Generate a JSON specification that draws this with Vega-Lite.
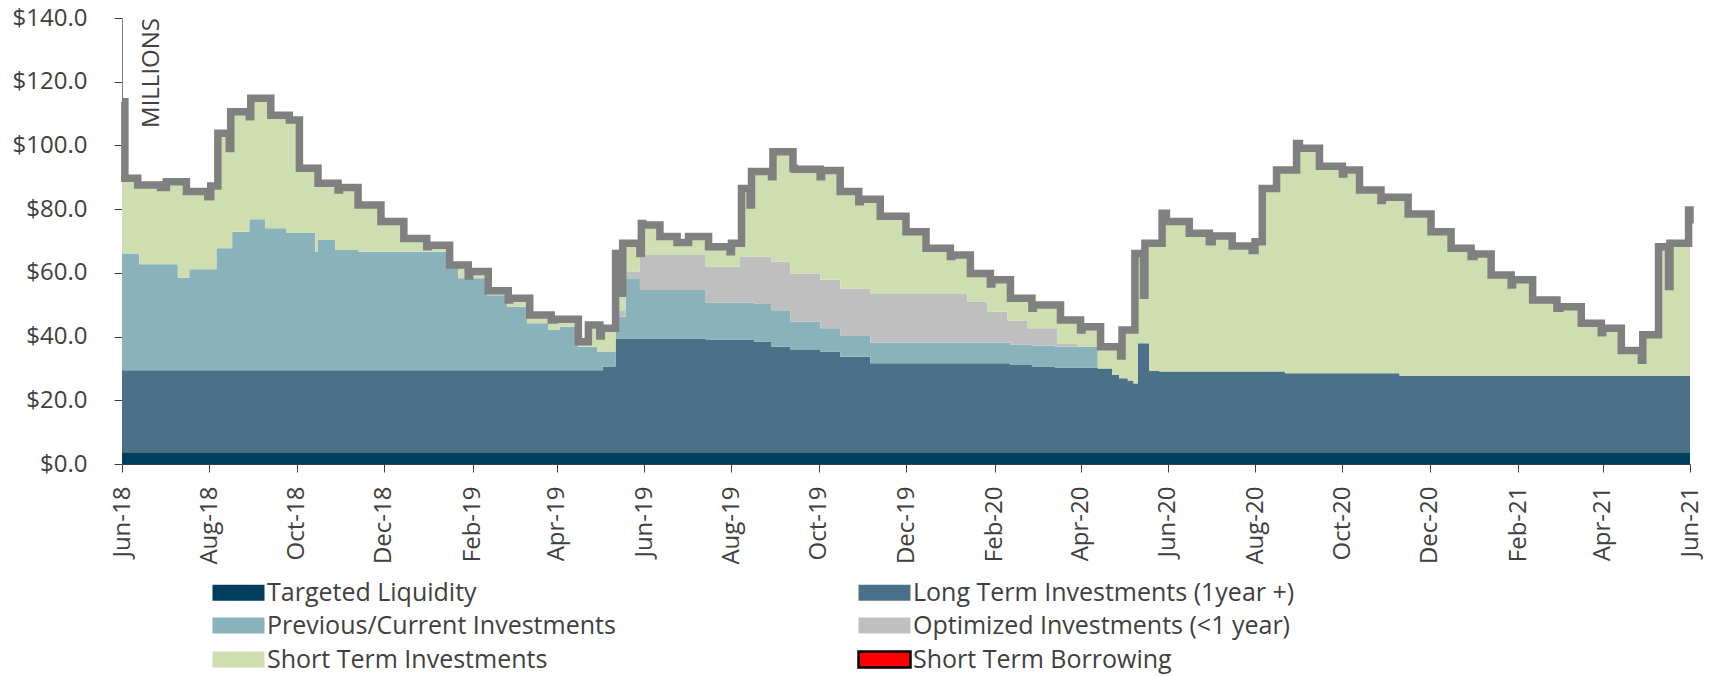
{
  "$schema": "https://vega.github.io/schema/vega-lite/v6.json",
  "width": 1568,
  "height": 446,
  "autosize": {"type": "none"},
  "padding": {"left": 122, "top": 18, "right": 28, "bottom": 212},
  "background": "white",
  "config": {"font": "Open Sans", "view": {"stroke": null}},
  "datasets": {
    "main": [
      {"d":"2018-06-01","s1":3.7,"s2":25.7,"s3":36.7,"s4":0,"s5":47.6,"T":113.7},
      {"d":"2018-06-03","s1":3.7,"s2":25.7,"s3":36.7,"s4":0,"s5":23.6,"T":89.7},
      {"d":"2018-06-12","s1":3.7,"s2":25.7,"s3":36.7,"s4":0,"s5":21.5,"T":87.6},
      {"d":"2018-06-13","s1":3.7,"s2":25.7,"s3":33.3,"s4":0,"s5":24.9,"T":87.6},
      {"d":"2018-06-28","s1":3.7,"s2":25.7,"s3":33.3,"s4":0,"s5":24.1,"T":86.8},
      {"d":"2018-07-02","s1":3.7,"s2":25.7,"s3":33.3,"s4":0,"s5":25.9,"T":88.6},
      {"d":"2018-07-10","s1":3.7,"s2":25.7,"s3":29.1,"s4":0,"s5":30.1,"T":88.6},
      {"d":"2018-07-16","s1":3.7,"s2":25.7,"s3":29.1,"s4":0,"s5":27.0,"T":85.5},
      {"d":"2018-07-18","s1":3.7,"s2":25.7,"s3":31.7,"s4":0,"s5":24.4,"T":85.5},
      {"d":"2018-07-31","s1":3.7,"s2":25.7,"s3":31.7,"s4":0,"s5":22.8,"T":83.9},
      {"d":"2018-08-02","s1":3.7,"s2":25.7,"s3":31.7,"s4":0,"s5":26.2,"T":87.3},
      {"d":"2018-08-06","s1":3.7,"s2":25.7,"s3":38.3,"s4":0,"s5":19.6,"T":87.3},
      {"d":"2018-08-07","s1":3.7,"s2":25.7,"s3":38.3,"s4":0,"s5":36.1,"T":103.8},
      {"d":"2018-08-15","s1":3.7,"s2":25.7,"s3":38.3,"s4":0,"s5":31.3,"T":99.0},
      {"d":"2018-08-16","s1":3.7,"s2":25.7,"s3":38.3,"s4":0,"s5":42.9,"T":110.6},
      {"d":"2018-08-17","s1":3.7,"s2":25.7,"s3":43.5,"s4":0,"s5":37.7,"T":110.6},
      {"d":"2018-08-29","s1":3.7,"s2":25.7,"s3":47.4,"s4":0,"s5":32.2,"T":109.0},
      {"d":"2018-08-30","s1":3.7,"s2":25.7,"s3":47.4,"s4":0,"s5":38.0,"T":114.8},
      {"d":"2018-09-09","s1":3.7,"s2":25.7,"s3":44.6,"s4":0,"s5":40.8,"T":114.8},
      {"d":"2018-09-13","s1":3.7,"s2":25.7,"s3":44.6,"s4":0,"s5":35.5,"T":109.5},
      {"d":"2018-09-24","s1":3.7,"s2":25.7,"s3":43.2,"s4":0,"s5":36.9,"T":109.5},
      {"d":"2018-09-26","s1":3.7,"s2":25.7,"s3":43.2,"s4":0,"s5":35.4,"T":108.0},
      {"d":"2018-10-03","s1":3.7,"s2":25.7,"s3":43.2,"s4":0,"s5":20.2,"T":92.8},
      {"d":"2018-10-14","s1":3.7,"s2":25.7,"s3":37.2,"s4":0,"s5":26.2,"T":92.8},
      {"d":"2018-10-16","s1":3.7,"s2":25.7,"s3":40.9,"s4":0,"s5":17.8,"T":88.1},
      {"d":"2018-10-28","s1":3.7,"s2":25.7,"s3":37.8,"s4":0,"s5":20.9,"T":88.1},
      {"d":"2018-10-30","s1":3.7,"s2":25.7,"s3":37.8,"s4":0,"s5":18.8,"T":86.0},
      {"d":"2018-10-31","s1":3.7,"s2":25.7,"s3":37.8,"s4":0,"s5":19.6,"T":86.8},
      {"d":"2018-11-13","s1":3.7,"s2":25.7,"s3":37.2,"s4":0,"s5":14.7,"T":81.3},
      {"d":"2018-11-29","s1":3.7,"s2":25.7,"s3":37.2,"s4":0,"s5":9.5,"T":76.1},
      {"d":"2018-12-15","s1":3.7,"s2":25.7,"s3":37.2,"s4":0,"s5":4.2,"T":70.8},
      {"d":"2018-12-31","s1":3.7,"s2":25.7,"s3":37.2,"s4":0,"s5":1.6,"T":68.2},
      {"d":"2019-01-01","s1":3.7,"s2":25.7,"s3":37.2,"s4":0,"s5":2.1,"T":68.7},
      {"d":"2019-01-14","s1":3.7,"s2":25.7,"s3":33.1,"s4":0,"s5":6.2,"T":68.7},
      {"d":"2019-01-16","s1":3.7,"s2":25.7,"s3":33.1,"s4":0,"s5":0,"T":62.5},
      {"d":"2019-01-22","s1":3.7,"s2":25.7,"s3":28.9,"s4":0,"s5":4.2,"T":62.5},
      {"d":"2019-01-29","s1":3.7,"s2":25.7,"s3":28.9,"s4":0,"s5":0.7,"T":59.0},
      {"d":"2019-01-30","s1":3.7,"s2":25.7,"s3":28.9,"s4":0,"s5":2.1,"T":60.4},
      {"d":"2019-02-11","s1":3.7,"s2":25.7,"s3":23.6,"s4":0,"s5":7.4,"T":60.4},
      {"d":"2019-02-12","s1":3.7,"s2":25.7,"s3":23.6,"s4":0,"s5":1.4,"T":54.4},
      {"d":"2019-02-25","s1":3.7,"s2":25.7,"s3":20.0,"s4":0,"s5":5.0,"T":54.4},
      {"d":"2019-02-26","s1":3.7,"s2":25.7,"s3":20.0,"s4":0,"s5":2.1,"T":51.5},
      {"d":"2019-02-27","s1":3.7,"s2":25.7,"s3":20.0,"s4":0,"s5":2.6,"T":52.0},
      {"d":"2019-03-11","s1":3.7,"s2":25.7,"s3":14.8,"s4":0,"s5":7.8,"T":52.0},
      {"d":"2019-03-13","s1":3.7,"s2":25.7,"s3":14.8,"s4":0,"s5":2.6,"T":46.8},
      {"d":"2019-03-26","s1":3.7,"s2":25.7,"s3":12.7,"s4":0,"s5":4.7,"T":46.8},
      {"d":"2019-03-28","s1":3.7,"s2":25.7,"s3":12.7,"s4":0,"s5":3.1,"T":45.2},
      {"d":"2019-03-30","s1":3.7,"s2":25.7,"s3":12.7,"s4":0,"s5":3.3,"T":45.4},
      {"d":"2019-04-03","s1":3.7,"s2":25.7,"s3":13.7,"s4":0,"s5":2.3,"T":45.4},
      {"d":"2019-04-16","s1":3.7,"s2":25.7,"s3":7.4,"s4":0,"s5":1.6,"T":38.4},
      {"d":"2019-04-23","s1":3.7,"s2":25.7,"s3":7.4,"s4":0,"s5":6.8,"T":43.6},
      {"d":"2019-04-29","s1":3.7,"s2":25.7,"s3":5.9,"s4":0,"s5":8.3,"T":43.6},
      {"d":"2019-05-01","s1":3.7,"s2":25.7,"s3":5.9,"s4":0,"s5":4.9,"T":40.2},
      {"d":"2019-05-02","s1":3.7,"s2":25.7,"s3":5.9,"s4":0,"s5":7.3,"T":42.6},
      {"d":"2019-05-03","s1":3.7,"s2":26.9,"s3":4.7,"s4":0,"s5":7.3,"T":42.6},
      {"d":"2019-05-12","s1":3.7,"s2":35.7,"s3":6.8,"s4":2.1,"s5":17.8,"T":66.1},
      {"d":"2019-05-15","s1":3.7,"s2":35.7,"s3":6.8,"s4":2.1,"s5":5.3,"T":53.6},
      {"d":"2019-05-17","s1":3.7,"s2":35.7,"s3":6.8,"s4":2.1,"s5":21.0,"T":69.3},
      {"d":"2019-05-19","s1":3.7,"s2":35.7,"s3":18.9,"s4":2.1,"s5":8.9,"T":69.3},
      {"d":"2019-05-29","s1":3.7,"s2":35.7,"s3":15.2,"s4":11.0,"s5":0.5,"T":66.1},
      {"d":"2019-05-30","s1":3.7,"s2":35.7,"s3":15.2,"s4":11.0,"s5":9.9,"T":75.5},
      {"d":"2019-05-31","s1":3.7,"s2":35.7,"s3":15.2,"s4":11.0,"s5":9.4,"T":75.0},
      {"d":"2019-06-12","s1":3.7,"s2":35.7,"s3":15.2,"s4":11.0,"s5":5.8,"T":71.4},
      {"d":"2019-06-24","s1":3.7,"s2":35.7,"s3":15.2,"s4":11.0,"s5":3.9,"T":69.5},
      {"d":"2019-07-02","s1":3.7,"s2":35.7,"s3":15.2,"s4":11.0,"s5":5.8,"T":71.4},
      {"d":"2019-07-14","s1":3.7,"s2":35.4,"s3":11.5,"s4":11.3,"s5":9.5,"T":71.4},
      {"d":"2019-07-16","s1":3.7,"s2":35.4,"s3":11.5,"s4":11.3,"s5":6.3,"T":68.2},
      {"d":"2019-07-31","s1":3.7,"s2":35.4,"s3":11.5,"s4":11.3,"s5":4.7,"T":66.6},
      {"d":"2019-08-01","s1":3.7,"s2":35.4,"s3":11.5,"s4":11.3,"s5":7.4,"T":69.3},
      {"d":"2019-08-07","s1":3.7,"s2":35.4,"s3":11.5,"s4":14.5,"s5":4.2,"T":69.3},
      {"d":"2019-08-08","s1":3.7,"s2":35.4,"s3":11.5,"s4":14.5,"s5":21.4,"T":86.5},
      {"d":"2019-08-14","s1":3.7,"s2":35.4,"s3":11.5,"s4":14.5,"s5":16.2,"T":81.3},
      {"d":"2019-08-15","s1":3.7,"s2":35.4,"s3":11.5,"s4":14.5,"s5":26.7,"T":91.8},
      {"d":"2019-08-17","s1":3.7,"s2":34.7,"s3":11.8,"s4":14.9,"s5":26.7,"T":91.8},
      {"d":"2019-08-29","s1":3.7,"s2":33.1,"s3":11.5,"s4":15.2,"s5":26.7,"T":90.2},
      {"d":"2019-08-30","s1":3.7,"s2":33.1,"s3":11.5,"s4":15.2,"s5":34.5,"T":98.0},
      {"d":"2019-09-11","s1":3.7,"s2":32.1,"s3":8.9,"s4":15.1,"s5":38.2,"T":98.0},
      {"d":"2019-09-13","s1":3.7,"s2":32.1,"s3":8.9,"s4":15.1,"s5":33.0,"T":92.8},
      {"d":"2019-09-14","s1":3.7,"s2":32.1,"s3":8.9,"s4":15.1,"s5":32.7,"T":92.5},
      {"d":"2019-10-02","s1":3.7,"s2":31.6,"s3":7.3,"s4":15.2,"s5":32.4,"T":90.2},
      {"d":"2019-10-03","s1":3.7,"s2":31.6,"s3":7.3,"s4":15.2,"s5":34.3,"T":92.1},
      {"d":"2019-10-16","s1":3.7,"s2":30.0,"s3":6.5,"s4":14.9,"s5":30.4,"T":85.5},
      {"d":"2019-10-29","s1":3.7,"s2":30.0,"s3":6.5,"s4":14.9,"s5":27.2,"T":82.3},
      {"d":"2019-10-30","s1":3.7,"s2":30.0,"s3":6.5,"s4":14.9,"s5":28.0,"T":83.1},
      {"d":"2019-11-06","s1":3.7,"s2":27.9,"s3":6.5,"s4":15.3,"s5":29.7,"T":83.1},
      {"d":"2019-11-13","s1":3.7,"s2":27.9,"s3":6.5,"s4":15.3,"s5":24.4,"T":77.8},
      {"d":"2019-12-01","s1":3.7,"s2":27.9,"s3":6.5,"s4":15.3,"s5":19.5,"T":72.9},
      {"d":"2019-12-15","s1":3.7,"s2":27.9,"s3":6.5,"s4":15.3,"s5":14.3,"T":67.7},
      {"d":"2020-01-01","s1":3.7,"s2":27.9,"s3":6.5,"s4":15.3,"s5":11.7,"T":65.1},
      {"d":"2020-01-02","s1":3.7,"s2":27.9,"s3":6.5,"s4":15.3,"s5":12.2,"T":65.6},
      {"d":"2020-01-13","s1":3.7,"s2":27.9,"s3":6.5,"s4":12.9,"s5":14.6,"T":65.6},
      {"d":"2020-01-15","s1":3.7,"s2":27.9,"s3":6.5,"s4":12.9,"s5":8.8,"T":59.8},
      {"d":"2020-01-27","s1":3.7,"s2":27.9,"s3":6.5,"s4":9.7,"s5":12.0,"T":59.8},
      {"d":"2020-01-29","s1":3.7,"s2":27.9,"s3":6.5,"s4":9.7,"s5":8.7,"T":56.5},
      {"d":"2020-01-30","s1":3.7,"s2":27.9,"s3":6.5,"s4":9.7,"s5":10.0,"T":57.8},
      {"d":"2020-02-10","s1":3.7,"s2":27.9,"s3":6.5,"s4":6.9,"s5":12.8,"T":57.8},
      {"d":"2020-02-12","s1":3.7,"s2":27.4,"s3":6.3,"s4":7.6,"s5":7.0,"T":52.0},
      {"d":"2020-02-24","s1":3.7,"s2":27.4,"s3":6.3,"s4":5.2,"s5":9.4,"T":52.0},
      {"d":"2020-02-27","s1":3.7,"s2":26.9,"s3":6.6,"s4":5.4,"s5":6.3,"T":48.9},
      {"d":"2020-02-28","s1":3.7,"s2":26.9,"s3":6.6,"s4":5.4,"s5":7.3,"T":49.9},
      {"d":"2020-03-14","s1":3.7,"s2":26.6,"s3":6.5,"s4":5.8,"s5":7.3,"T":49.9},
      {"d":"2020-03-16","s1":3.7,"s2":26.6,"s3":6.5,"s4":0.9,"s5":12.2,"T":49.9},
      {"d":"2020-03-18","s1":3.7,"s2":26.6,"s3":6.5,"s4":0.9,"s5":7.5,"T":45.2},
      {"d":"2020-03-30","s1":3.7,"s2":26.6,"s3":6.5,"s4":0,"s5":8.4,"T":45.2},
      {"d":"2020-04-01","s1":3.7,"s2":26.6,"s3":6.5,"s4":0,"s5":5.3,"T":42.1},
      {"d":"2020-04-02","s1":3.7,"s2":26.6,"s3":6.5,"s4":0,"s5":6.3,"T":43.1},
      {"d":"2020-04-13","s1":3.7,"s2":26.3,"s3":0,"s4":0,"s5":13.1,"T":43.1},
      {"d":"2020-04-15","s1":3.7,"s2":26.3,"s3":0,"s4":0,"s5":6.8,"T":36.8},
      {"d":"2020-04-23","s1":3.7,"s2":24.2,"s3":0,"s4":0,"s5":8.9,"T":36.8},
      {"d":"2020-04-28","s1":3.7,"s2":23.2,"s3":0,"s4":0,"s5":9.9,"T":36.8},
      {"d":"2020-04-29","s1":3.7,"s2":23.2,"s3":0,"s4":0,"s5":7.0,"T":33.9},
      {"d":"2020-04-30","s1":3.7,"s2":23.2,"s3":0,"s4":0,"s5":15.2,"T":42.1},
      {"d":"2020-05-04","s1":3.7,"s2":22.5,"s3":0,"s4":0,"s5":15.9,"T":42.1},
      {"d":"2020-05-08","s1":3.7,"s2":21.6,"s3":0,"s4":0,"s5":16.8,"T":42.1},
      {"d":"2020-05-09","s1":3.7,"s2":21.6,"s3":0,"s4":0,"s5":40.8,"T":66.1},
      {"d":"2020-05-11","s1":3.7,"s2":34.2,"s3":0,"s4":0,"s5":28.2,"T":66.1},
      {"d":"2020-05-15","s1":3.7,"s2":34.2,"s3":0,"s4":0,"s5":15.1,"T":53.0},
      {"d":"2020-05-16","s1":3.7,"s2":34.2,"s3":0,"s4":0,"s5":31.4,"T":69.3},
      {"d":"2020-05-19","s1":3.7,"s2":25.6,"s3":0,"s4":0,"s5":40.0,"T":69.3},
      {"d":"2020-05-26","s1":3.7,"s2":25.3,"s3":0,"s4":0,"s5":40.3,"T":69.3},
      {"d":"2020-05-28","s1":3.7,"s2":25.3,"s3":0,"s4":0,"s5":49.7,"T":78.7},
      {"d":"2020-05-31","s1":3.7,"s2":25.3,"s3":0,"s4":0,"s5":47.1,"T":76.1},
      {"d":"2020-06-16","s1":3.7,"s2":25.3,"s3":0,"s4":0,"s5":43.4,"T":72.4},
      {"d":"2020-06-30","s1":3.7,"s2":25.3,"s3":0,"s4":0,"s5":40.8,"T":69.8},
      {"d":"2020-07-02","s1":3.7,"s2":25.3,"s3":0,"s4":0,"s5":42.6,"T":71.6},
      {"d":"2020-07-16","s1":3.7,"s2":25.3,"s3":0,"s4":0,"s5":39.4,"T":68.4},
      {"d":"2020-07-30","s1":3.7,"s2":25.3,"s3":0,"s4":0,"s5":38.0,"T":67.0},
      {"d":"2020-08-01","s1":3.7,"s2":25.3,"s3":0,"s4":0,"s5":40.8,"T":69.8},
      {"d":"2020-08-06","s1":3.7,"s2":25.3,"s3":0,"s4":0,"s5":57.5,"T":86.5},
      {"d":"2020-08-16","s1":3.7,"s2":25.3,"s3":0,"s4":0,"s5":63.3,"T":92.3},
      {"d":"2020-08-22","s1":3.7,"s2":24.8,"s3":0,"s4":0,"s5":63.8,"T":92.3},
      {"d":"2020-08-30","s1":3.7,"s2":24.8,"s3":0,"s4":0,"s5":72.1,"T":100.6},
      {"d":"2020-09-01","s1":3.7,"s2":24.8,"s3":0,"s4":0,"s5":70.6,"T":99.1},
      {"d":"2020-09-15","s1":3.7,"s2":24.8,"s3":0,"s4":0,"s5":65.0,"T":93.5},
      {"d":"2020-10-01","s1":3.7,"s2":24.8,"s3":0,"s4":0,"s5":62.5,"T":91.0},
      {"d":"2020-10-02","s1":3.7,"s2":24.8,"s3":0,"s4":0,"s5":63.8,"T":92.3},
      {"d":"2020-10-13","s1":3.7,"s2":24.8,"s3":0,"s4":0,"s5":57.5,"T":86.0},
      {"d":"2020-10-28","s1":3.7,"s2":24.8,"s3":0,"s4":0,"s5":54.2,"T":82.7},
      {"d":"2020-10-29","s1":3.7,"s2":24.8,"s3":0,"s4":0,"s5":55.2,"T":83.7},
      {"d":"2020-11-10","s1":3.7,"s2":24.0,"s3":0,"s4":0,"s5":56.0,"T":83.7},
      {"d":"2020-11-16","s1":3.7,"s2":24.0,"s3":0,"s4":0,"s5":50.8,"T":78.5},
      {"d":"2020-12-02","s1":3.7,"s2":24.0,"s3":0,"s4":0,"s5":45.2,"T":72.9},
      {"d":"2020-12-16","s1":3.7,"s2":24.0,"s3":0,"s4":0,"s5":40.0,"T":67.7},
      {"d":"2020-12-30","s1":3.7,"s2":24.0,"s3":0,"s4":0,"s5":37.4,"T":65.1},
      {"d":"2021-01-01","s1":3.7,"s2":24.0,"s3":0,"s4":0,"s5":38.2,"T":65.9},
      {"d":"2021-01-13","s1":3.7,"s2":24.0,"s3":0,"s4":0,"s5":31.6,"T":59.3},
      {"d":"2021-01-27","s1":3.7,"s2":24.0,"s3":0,"s4":0,"s5":28.5,"T":56.2},
      {"d":"2021-01-28","s1":3.7,"s2":24.0,"s3":0,"s4":0,"s5":30.1,"T":57.8},
      {"d":"2021-02-11","s1":3.7,"s2":24.0,"s3":0,"s4":0,"s5":23.8,"T":51.5},
      {"d":"2021-02-28","s1":3.7,"s2":24.0,"s3":0,"s4":0,"s5":21.2,"T":48.9},
      {"d":"2021-03-02","s1":3.7,"s2":24.0,"s3":0,"s4":0,"s5":21.7,"T":49.4},
      {"d":"2021-03-17","s1":3.7,"s2":24.0,"s3":0,"s4":0,"s5":16.5,"T":44.2},
      {"d":"2021-03-31","s1":3.7,"s2":24.0,"s3":0,"s4":0,"s5":13.5,"T":41.2},
      {"d":"2021-04-01","s1":3.7,"s2":24.0,"s3":0,"s4":0,"s5":14.9,"T":42.6},
      {"d":"2021-04-14","s1":3.7,"s2":24.0,"s3":0,"s4":0,"s5":7.9,"T":35.6},
      {"d":"2021-04-28","s1":3.7,"s2":24.0,"s3":0,"s4":0,"s5":4.9,"T":32.6},
      {"d":"2021-04-29","s1":3.7,"s2":24.0,"s3":0,"s4":0,"s5":12.9,"T":40.6},
      {"d":"2021-05-10","s1":3.7,"s2":24.0,"s3":0,"s4":0,"s5":40.5,"T":68.2},
      {"d":"2021-05-17","s1":3.7,"s2":24.0,"s3":0,"s4":0,"s5":28.0,"T":55.7},
      {"d":"2021-05-18","s1":3.7,"s2":24.0,"s3":0,"s4":0,"s5":41.6,"T":69.3},
      {"d":"2021-05-31","s1":3.7,"s2":24.0,"s3":0,"s4":0,"s5":52.0,"T":79.7},
      {"d":"2021-06-01","s1":3.7,"s2":24.0,"s3":0,"s4":0,"s5":47.8,"T":75.5}
    ]
  },
  "data": {"name": "main"},
  "layer": [
    {
      "transform": [{"fold": ["s1", "s2", "s3", "s4", "s5"], "as": ["series", "value"]}],
      "mark": {"type": "area", "interpolate": "step-after"},
      "encoding": {
        "x": {
          "field": "d", "type": "temporal",
          "scale": {"type": "utc", "domain": [{"year": 2018, "month": 6, "date": 1, "utc": true}, {"year": 2021, "month": 6, "date": 1, "utc": true}]},
          "axis": {
            "values": [
              {"year": 2018, "month": 6, "date": 1, "utc": true}, {"year": 2018, "month": 8, "date": 1, "utc": true},
              {"year": 2018, "month": 10, "date": 1, "utc": true}, {"year": 2018, "month": 12, "date": 1, "utc": true},
              {"year": 2019, "month": 2, "date": 1, "utc": true}, {"year": 2019, "month": 4, "date": 1, "utc": true},
              {"year": 2019, "month": 6, "date": 1, "utc": true}, {"year": 2019, "month": 8, "date": 1, "utc": true},
              {"year": 2019, "month": 10, "date": 1, "utc": true}, {"year": 2019, "month": 12, "date": 1, "utc": true},
              {"year": 2020, "month": 2, "date": 1, "utc": true}, {"year": 2020, "month": 4, "date": 1, "utc": true},
              {"year": 2020, "month": 6, "date": 1, "utc": true}, {"year": 2020, "month": 8, "date": 1, "utc": true},
              {"year": 2020, "month": 10, "date": 1, "utc": true}, {"year": 2020, "month": 12, "date": 1, "utc": true},
              {"year": 2021, "month": 2, "date": 1, "utc": true}, {"year": 2021, "month": 4, "date": 1, "utc": true},
              {"year": 2021, "month": 6, "date": 1, "utc": true}
            ],
            "format": "%b-%y", "labelAngle": 270, "labelFontSize": 24, "labelColor": "#404040",
            "labelFont": "Open Sans", "tickSize": 8, "labelPadding": 14, "domainColor": "#404040",
            "tickColor": "#404040", "grid": false, "title": null, "labelFlush": false, "labelOverlap": false
          }
        },
        "y": {
          "field": "value", "type": "quantitative", "stack": "zero",
          "scale": {"domain": [0, 140]},
          "axis": {
            "values": [0, 20, 40, 60, 80, 100, 120, 140], "format": "$.1f",
            "labelFontSize": 24, "labelColor": "#404040", "labelFont": "Open Sans",
            "tickSize": 8, "labelPadding": 27, "domainColor": "#808080", "tickColor": "#404040",
            "grid": false, "title": null
          }
        },
        "order": {"field": "series", "sort": "ascending"},
        "color": {
          "field": "series", "type": "nominal",
          "scale": {
            "domain": ["s1", "s2", "s3", "s4", "s5", "s6"],
            "range": ["#013e5d", "#4b7189", "#8ab2bb", "#bfbfbf", "#cfdeb0", "#ff0000"]
          },
          "legend": {
            "orient": "none", "legendX": 86, "legendY": 562, "direction": "horizontal", "columns": 2,
            "title": null, "symbolType": "M-1,-1L5.5,-1L5.5,1L-1,1Z", "symbolSize": 256,
            "symbolStrokeWidth": 0, "labelOffset": 34, "labelFontSize": 25, "labelColor": "#404040",
            "labelFont": "Open Sans", "labelLimit": 600, "rowPadding": 7, "columnPadding": 237,
            "labelExpr": "datum.label == 's1' ? 'Targeted Liquidity' : datum.label == 's2' ? 'Long Term Investments (1year +)' : datum.label == 's3' ? 'Previous/Current Investments' : datum.label == 's4' ? 'Optimized Investments (<1 year)' : datum.label == 's5' ? 'Short Term Investments' : 'Short Term Borrowing'",
            "symbolOpacity": 1,
            "encode": {
              "symbols": {
                "update": {
                  "stroke": {"signal": "datum.value === 's6' ? '#000000' : 'transparent'"},
                  "strokeWidth": {"signal": "datum.value === 's6' ? 2.5 : 0"}
                }
              }
            }
          }
        }
      }
    },
    {
      "mark": {"type": "line", "interpolate": "step-after", "color": "#808080", "strokeWidth": 7.5},
      "encoding": {
        "x": {"field": "d", "type": "temporal"},
        "y": {"field": "T", "type": "quantitative"}
      }
    },
    {
      "data": {"values": [{"label": "MILLIONS"}]},
      "mark": {"type": "text", "angle": 270, "align": "right", "baseline": "middle", "fontSize": 24, "color": "#404040", "font": "Open Sans"},
      "encoding": {
        "x": {"datum": {"year": 2018, "month": 6, "date": 22, "utc": true}, "type": "temporal"},
        "y": {"datum": 140, "type": "quantitative"},
        "text": {"field": "label"}
      }
    }
  ]
}
